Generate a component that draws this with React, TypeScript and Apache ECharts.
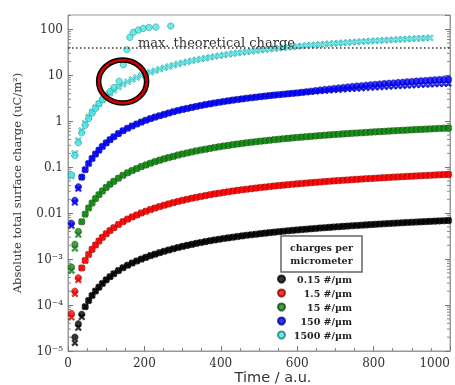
import React, { useEffect, useRef } from "react";
import * as echarts from "echarts";

// Time points (a.u.)
const TIME = [
  9, 18, 27, 36, 45, 54, 63, 72, 81, 90,
  100, 110, 120,
  132, 144, 156, 168, 180, 192, 204, 216, 228, 240,
  252, 264, 276, 288, 300, 312, 324, 336, 348, 360,
  372, 384, 396, 408, 420, 432, 444, 456, 468, 480,
  492, 504, 516, 528, 540, 552, 564, 576, 588, 600,
  612, 624, 636, 648, 660, 672, 684, 696, 708, 720,
  732, 744, 756, 768, 780, 792, 804, 816, 828, 840,
  852, 864, 876, 888, 900, 912, 924, 936, 948, 960,
  972, 984, 996,
];

const BLACK = [
  6.5e-6, 2.0e-5, 3.9e-5, 6.3e-5, 9.2e-5, 1.25e-4, 1.61e-4, 2.02e-4, 2.45e-4, 2.95e-4,
  3.53e-4, 4.14e-4, 4.79e-4,
  5.62e-4, 6.48e-4, 7.34e-4, 8.21e-4, 9.07e-4, 1.0e-3, 1.09e-3, 1.19e-3, 1.28e-3, 1.38e-3,
  1.48e-3, 1.58e-3, 1.68e-3, 1.79e-3, 1.89e-3, 1.99e-3, 2.09e-3, 2.2e-3, 2.3e-3, 2.4e-3,
  2.5e-3, 2.61e-3, 2.71e-3, 2.81e-3, 2.9e-3, 3.0e-3, 3.1e-3, 3.2e-3, 3.3e-3, 3.39e-3,
  3.48e-3, 3.58e-3, 3.67e-3, 3.77e-3, 3.86e-3, 3.95e-3, 4.04e-3, 4.13e-3, 4.22e-3, 4.31e-3,
  4.39e-3, 4.48e-3, 4.56e-3, 4.65e-3, 4.74e-3, 4.82e-3, 4.9e-3, 4.99e-3, 5.07e-3, 5.16e-3,
  5.23e-3, 5.31e-3, 5.39e-3, 5.47e-3, 5.55e-3, 5.63e-3, 5.71e-3, 5.79e-3, 5.87e-3, 5.95e-3,
  6.02e-3, 6.1e-3, 6.17e-3, 6.25e-3, 6.32e-3, 6.4e-3, 6.47e-3, 6.54e-3, 6.62e-3, 6.7e-3,
  6.77e-3, 6.84e-3, 6.91e-3,
];

const RED = [
  6.5e-5, 2.0e-4, 3.9e-4, 6.4e-4, 9.3e-4, 1.26e-3, 1.63e-3, 2.03e-3, 2.47e-3, 2.97e-3,
  3.56e-3, 4.18e-3, 4.82e-3,
  5.65e-3, 6.53e-3, 7.4e-3, 8.27e-3, 9.13e-3, 0.0101, 0.011, 0.012, 0.0129, 0.0139,
  0.0149, 0.0159, 0.0169, 0.018, 0.019, 0.02, 0.0211, 0.0221, 0.0231, 0.0241,
  0.0252, 0.0263, 0.0272, 0.0283, 0.0292, 0.0303, 0.0313, 0.0322, 0.0332, 0.0342,
  0.0351, 0.0361, 0.0369, 0.0379, 0.0389, 0.0398, 0.0407, 0.0416, 0.0425, 0.0434,
  0.0442, 0.0451, 0.046, 0.0468, 0.0477, 0.0486, 0.0494, 0.0503, 0.0511, 0.0519,
  0.0527, 0.0535, 0.0543, 0.0551, 0.056, 0.0567, 0.0575, 0.0583, 0.0591, 0.0599,
  0.0607, 0.0614, 0.0621, 0.0629, 0.0637, 0.0645, 0.0652, 0.066, 0.0666, 0.0674,
  0.0682, 0.0689, 0.0696,
];

const GREEN = [
  0.00067, 0.0021, 0.004, 0.0065, 0.0095, 0.0129, 0.0166, 0.0207, 0.0252, 0.0303,
  0.0363, 0.0426, 0.0492,
  0.0577, 0.0666, 0.0755, 0.0844, 0.0932, 0.103, 0.112, 0.122, 0.132, 0.142,
  0.152, 0.162, 0.172, 0.184, 0.194, 0.204, 0.215, 0.226, 0.236, 0.246,
  0.257, 0.268, 0.278, 0.289, 0.298, 0.309, 0.319, 0.329, 0.339, 0.349,
  0.358, 0.368, 0.377, 0.387, 0.397, 0.406, 0.415, 0.424, 0.434, 0.443,
  0.451, 0.46, 0.469, 0.478, 0.487, 0.496, 0.504, 0.513, 0.521, 0.53,
  0.538, 0.546, 0.554, 0.562, 0.571, 0.579, 0.587, 0.595, 0.603, 0.611,
  0.619, 0.627, 0.634, 0.642, 0.65, 0.658, 0.665, 0.673, 0.68, 0.688,
  0.696, 0.703, 0.71,
];

const BLUE_DOT = [
  0.006, 0.019, 0.0373, 0.0607, 0.0883, 0.12, 0.155, 0.193, 0.235, 0.283,
  0.338, 0.397, 0.459,
  0.538, 0.621, 0.704, 0.787, 0.869, 0.959, 1.05, 1.14, 1.23, 1.32,
  1.41, 1.51, 1.61, 1.71, 1.81, 1.9, 2.0, 2.1, 2.2, 2.3,
  2.39, 2.5, 2.59, 2.69, 2.78, 2.88, 2.97, 3.06, 3.16, 3.25,
  3.34, 3.43, 3.52, 3.61, 3.7, 3.78, 3.87, 3.95, 4.04, 4.13,
  4.25, 4.38, 4.5, 4.64, 4.77, 4.9, 5.03, 5.16, 5.3, 5.43,
  5.57, 5.7, 5.82, 5.92, 6.06, 6.21, 6.32, 6.44, 6.58, 6.7,
  6.81, 6.95, 7.06, 7.19, 7.33, 7.45, 7.56, 7.71, 7.83, 7.96,
  8.08, 8.2, 8.28,
];

const BLUE_X = [
  0.0053, 0.017, 0.034, 0.0607, 0.0883, 0.12, 0.155, 0.193, 0.235, 0.283,
  0.338, 0.397, 0.459,
  0.538, 0.621, 0.704, 0.787, 0.869, 0.959, 1.05, 1.14, 1.23, 1.32,
  1.41, 1.51, 1.61, 1.71, 1.81, 1.9, 2.0, 2.1, 2.2, 2.3,
  2.39, 2.5, 2.59, 2.69, 2.78, 2.88, 2.97, 3.06, 3.16, 3.25,
  3.34, 3.43, 3.52, 3.61, 3.7, 3.78, 3.87, 3.95, 4.04, 4.13,
  4.21, 4.29, 4.37, 4.46, 4.54, 4.62, 4.7, 4.78, 4.86, 4.94,
  5.02, 5.09, 5.17, 5.24, 5.32, 5.4, 5.47, 5.55, 5.62, 5.7,
  5.77, 5.84, 5.91, 5.99, 6.06, 6.13, 6.2, 6.27, 6.34, 6.42,
  6.49, 6.56, 6.62,
];

const CYAN_X = [
  0.064, 0.199, 0.383, 0.625, 0.909, 1.24, 1.59, 1.99, 2.41, 2.91,
  3.48, 4.08, 4.72,
  5.54, 6.39, 7.24, 8.09, 8.95, 9.87, 10.8, 11.7, 12.6, 13.6,
  14.6, 15.5, 16.5, 17.6, 18.6, 19.6, 20.6, 21.7, 22.6, 23.6,
  24.6, 25.7, 26.7, 27.7, 28.6, 29.6, 30.6, 31.5, 32.5, 33.4,
  34.4, 35.3, 36.2, 37.1, 38.1, 38.9, 39.8, 40.7, 41.6, 42.5,
  43.3, 44.2, 45.0, 45.9, 46.7, 47.6, 48.4, 49.2, 50.0, 50.8,
  51.6, 52.4, 53.2, 54.0, 54.7, 55.5, 56.3, 57.1, 57.9, 58.6,
  59.4, 60.1, 60.8, 61.6, 62.3, 63.1, 63.8, 64.5, 65.2,
];

// cyan simulation points (diverge near t ~ 140)
const CYAN_DOT_TIME = [9, 18, 27, 36, 45, 54, 63, 72, 81, 90, 100, 110, 120, 134, 145, 154, 162, 171, 184, 197, 212, 230, 269];
const CYAN_DOT = [0.068, 0.18, 0.34, 0.56, 0.82, 1.15, 1.5, 1.9, 2.4, 2.95, 3.6, 4.4, 5.4, 7.4, 17, 36, 67, 86, 96, 105, 110, 112, 118];

// first few "x" marker values where they separate from the dots
const BLACK_X_EARLY = [6e-6, 1.5e-5, 3.2e-5, 5.5e-5];
const RED_X_EARLY = [5.4e-5, 1.75e-4, 3.5e-4];
const GREEN_X_EARLY = [5.6e-4, 1.7e-3, 3.4e-3];

const SERIES_NAMES = ["0.15 #/µm", "1.5 #/µm", "15 #/µm", "150 #/µm", "1500 #/µm"];
const COLORS = ["#000000", "#ff0000", "#118a11", "#0000ff", "#45e6e6"];
const BORDERS = ["#000000", "#8a0000", "#0a4a0a", "#00008a", "#1d8080"];

const Y_TICK_LABELS = ["10⁻⁵", "10⁻⁴", "10⁻³", "0.01", "0.1", "1", "10", "100"];
const MAX_CHARGE = 40;
const Y_MIN = 1e-5;
const Y_MAX = 205;

const X_SYMBOL = "path://M0,2L2,0L5,3L8,0L10,2L7,5L10,8L8,10L5,7L2,10L0,8L3,5Z";

export default function App() {
  const ref = useRef<HTMLDivElement>(null);
  useEffect(() => {
    const chart = echarts.init(ref.current!, null, { renderer: "svg" });

    const pairs = (ts: number[], vs: number[]) => vs.map((v, i) => [ts[i], v]);
    const withEarly = (early: number[], vs: number[]) =>
      TIME.map((t, i) => [t, i < early.length ? early[i] : vs[i]]);

    const dotSets = [
      pairs(TIME, BLACK),
      pairs(TIME, RED),
      pairs(TIME, GREEN),
      pairs(TIME, BLUE_DOT),
      pairs(CYAN_DOT_TIME, CYAN_DOT),
    ];
    const xSets = [
      withEarly(BLACK_X_EARLY, BLACK),
      withEarly(RED_X_EARLY, RED),
      withEarly(GREEN_X_EARLY, GREEN),
      pairs(TIME, BLUE_X),
      pairs(TIME, CYAN_X),
    ];

    const minor: number[][] = [];
    for (let e = -5; e <= 2; e++) {
      for (let k = 2; k <= 9; k++) {
        const v = k * Math.pow(10, e);
        if (v < Y_MAX) minor.push([0, v]);
      }
    }

    const series: any[] = [];
    xSets.forEach((d, i) => {
      series.push({
        type: "scatter",
        name: "x" + i,
        data: d,
        symbol: X_SYMBOL,
        symbolSize: 6.5,
        clip: true,
        itemStyle: { color: COLORS[i], borderColor: BORDERS[i], borderWidth: 0.5 },
        z: 2,
      });
    });
    dotSets.forEach((d, i) => {
      series.push({
        type: "scatter",
        name: SERIES_NAMES[i],
        data: d,
        symbol: "circle",
        symbolSize: 6.5,
        clip: true,
        itemStyle: { color: COLORS[i], borderColor: BORDERS[i], borderWidth: 0.6 },
        z: 3,
      });
    });
    series.push({
      type: "custom",
      name: "minor",
      silent: true,
      data: minor,
      encode: { x: 0, y: 1 },
      clip: false,
      renderItem: (_p: any, api: any) => {
        const v = api.value(1);
        const pl = api.coord([0, v]);
        const pr = api.coord([1000, v]);
        const st = { stroke: "#888", lineWidth: 1 };
        return {
          type: "group",
          children: [
            { type: "line", shape: { x1: pl[0], y1: pl[1], x2: pl[0] + 3, y2: pl[1] }, style: st },
            { type: "line", shape: { x1: pr[0] - 3, y1: pr[1], x2: pr[0], y2: pr[1] }, style: st },
          ],
        };
      },
    });
    series.push({
      type: "line",
      name: "maxline",
      data: [],
      silent: true,
      markLine: {
        silent: true,
        symbol: "none",
        label: { show: false },
        lineStyle: { color: "#333", type: [1.5, 2.5], width: 1.5 },
        data: [{ yAxis: MAX_CHARGE }],
      },
    });

    const yLabel = (v: number) => {
      const e = Math.round(Math.log10(v));
      return Y_TICK_LABELS[e + 5] ?? "";
    };

    const axisCol = "#999";
    chart.setOption({
      animation: false,
      grid: {
        left: 68,
        right: 5,
        top: 15,
        bottom: 34,
        containLabel: false,
        outerBoundsMode: "none",
        show: true,
        borderColor: axisCol,
        borderWidth: 1,
      },
      legend: {
        data: SERIES_NAMES,
        orient: "vertical",
        left: 277,
        top: 274,
        padding: 0,
        itemGap: 4,
        itemWidth: 7,
        itemHeight: 7,
        icon: "circle",
        formatter: (n: string) => `{a|${n}}`,
        textStyle: {
          rich: {
            a: {
              width: 62,
              align: "right",
              fontFamily: "DejaVu Serif",
              fontWeight: "bold",
              fontSize: 9.5,
              color: "#222",
            },
          },
        },
      },
      xAxis: {
        type: "value",
        min: 0,
        max: 1000,
        interval: 200,
        name: "Time / a.u.",
        nameLocation: "middle",
        nameGap: 18,
        nameMoveOverlap: false,
        nameTextStyle: { fontFamily: "DejaVu Sans", fontSize: 14.5, color: "#333", padding: [0, 0, 0, 28] },
        axisLine: { lineStyle: { color: axisCol } },
        axisTick: { inside: true, length: 5, lineStyle: { color: "#777" } },
        minorTick: { show: true, splitNumber: 4, length: 3, lineStyle: { color: "#888" } },
        splitLine: { show: false },
        axisLabel: {
          formatter: (v: number) => String(v),
          fontFamily: "DejaVu Serif",
          fontSize: 12,
          color: "#333",
          margin: 6,
          alignMaxLabel: "right",
        },
      },
      yAxis: [
        {
          type: "log",
          min: Y_MIN,
          max: Y_MAX,
          name: "Absolute total surface charge (uC/m²)",
          nameLocation: "middle",
          nameGap: 45,
          nameMoveOverlap: false,
          nameTextStyle: { fontFamily: "DejaVu Serif", fontSize: 11.5, color: "#333" },
          axisLine: { show: true, lineStyle: { color: axisCol } },
          axisTick: { show: true, inside: true, length: 5, lineStyle: { color: "#777" } },
          splitLine: { show: false },
          axisLabel: {
            formatter: yLabel,
            fontFamily: "DejaVu Serif",
            fontSize: 12,
            color: "#333",
            margin: 5,
            showMaxLabel: false,
          },
        },
        {
          type: "log",
          min: Y_MIN,
          max: Y_MAX,
          position: "right",
          axisLine: { show: true, lineStyle: { color: axisCol } },
          axisTick: { show: true, inside: true, length: 5, lineStyle: { color: "#777" } },
          splitLine: { show: false },
          axisLabel: { show: false },
        },
      ],
      series,
    });

    const circ = chart.convertToPixel({ gridIndex: 0 }, [143, 7.3]) as number[];
    const lbl = chart.convertToPixel({ gridIndex: 0 }, [183, MAX_CHARGE]) as number[];

    chart.setOption({
      graphic: [
        {
          type: "ellipse",
          z: 100,
          shape: { cx: circ[0], cy: circ[1], rx: 24, ry: 21.5 },
          style: { fill: "none", stroke: "#000", lineWidth: 5.5 },
        },
        {
          type: "ellipse",
          z: 101,
          shape: { cx: circ[0], cy: circ[1], rx: 24, ry: 21.5 },
          style: { fill: "none", stroke: "#d40000", lineWidth: 2.5 },
        },
        {
          type: "text",
          z: 100,
          x: lbl[0],
          y: lbl[1] + 1,
          style: {
            text: "max. theoretical charge",
            fontFamily: "DejaVu Serif",
            fontSize: 13,
            fill: "#333",
            verticalAlign: "bottom",
          },
        },
        {
          type: "rect",
          z: 100,
          shape: { x: 281, y: 236, width: 81, height: 36 },
          style: { fill: "#fff", stroke: "#666", lineWidth: 1.5 },
        },
        {
          type: "text",
          z: 101,
          x: 321.5,
          y: 254,
          style: {
            text: "charges per\nmicrometer",
            fontFamily: "DejaVu Serif",
            fontWeight: "bold",
            fontSize: 9.5,
            lineHeight: 13.5,
            fill: "#222",
            align: "center",
            verticalAlign: "middle",
          },
        },
      ],
    });

    return () => chart.dispose();
  }, []);
  return <div ref={ref} style={{ position: "fixed", left: 0, top: 0, width: 455, height: 385 }} />;
}
